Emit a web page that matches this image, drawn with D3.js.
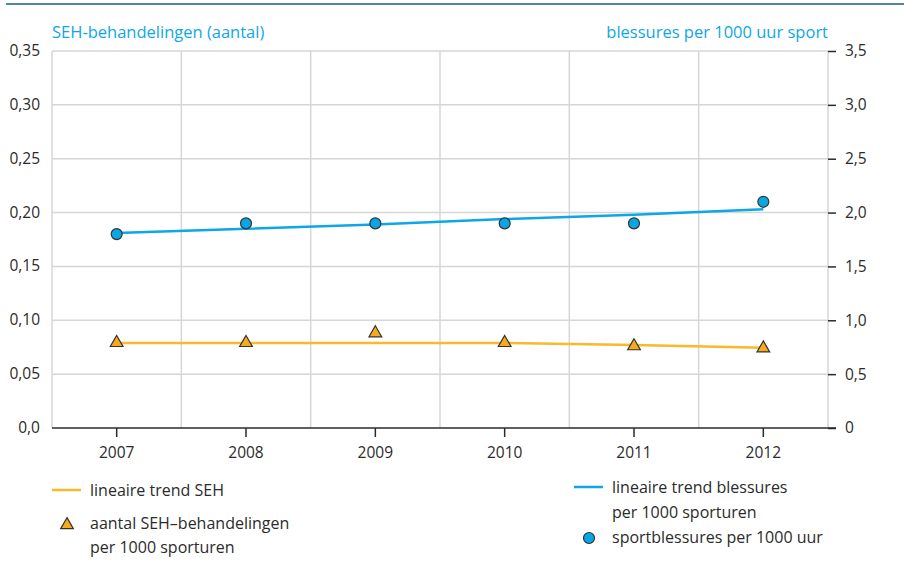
<!DOCTYPE html>
<html>
<head>
<meta charset="utf-8">
<script src="https://cdn.jsdelivr.net/npm/d3@7"></script>
<style>
  body { margin: 0; background: #fff; }
  svg { font-family: 'Open Sans', 'Noto Sans', sans-serif; }
</style>
</head>
<body>
<div id="chart"></div>
<script>
const years = ['2007', '2008', '2009', '2010', '2011', '2012']
const sehValues = [0.080, 0.080, 0.089, 0.080, 0.077, 0.075]
const sehTrend = [0.079, 0.079, 0.079, 0.079, 0.077, 0.0745]
const blessValues = [1.80, 1.90, 1.90, 1.90, 1.90, 2.10]
const blessTrend = [1.81, 1.85, 1.89, 1.94, 1.98, 2.03]
const leftTicks = [0, 0.05, 0.10, 0.15, 0.20, 0.25, 0.30, 0.35]
const rightTicks = [0, 0.5, 1.0, 1.5, 2.0, 2.5, 3.0, 3.5]

const width = 904
const height = 574
const margin = { top: 51, right: 76, bottom: 146, left: 52 }

const orange = '#fbb829'
const blue = '#0ea7e6'
const textCol = '#2b2b2b'
const gridCol = '#d6d6d6'
const fontFam = "'Open Sans', 'Noto Sans', sans-serif"

const svg = d3.select('#chart').append('svg')
  .attr('width', width)
  .attr('height', height)

// top rule
svg.append('line')
  .attr('x1', 6).attr('x2', width)
  .attr('y1', 4).attr('y2', 4)
  .attr('stroke', '#4d86a8').attr('stroke-width', 2)

const x = d3.scaleBand()
  .domain(years)
  .range([margin.left, width - margin.right])

const yLeft = d3.scaleLinear()
  .domain([0, 0.35])
  .range([height - margin.bottom, margin.top])

const yRight = d3.scaleLinear()
  .domain([0, 3.5])
  .range([height - margin.bottom, margin.top])

const fmtLeft = (d) => d === 0 ? '0,0' : d3.format('.2f')(d).replace('.', ',')
const fmtRight = (d) => d === 0 ? '0' : d3.format('.1f')(d).replace('.', ',')

// horizontal grid
svg.append('g')
  .selectAll('line')
  .data(leftTicks.filter(d => d > 0))
  .join('line')
  .attr('x1', margin.left).attr('x2', width - margin.right)
  .attr('y1', d => yLeft(d)).attr('y2', d => yLeft(d))
  .attr('stroke', gridCol).attr('stroke-width', 1.5)

// vertical grid at band edges
const edges = years.map(d => x(d)).concat([x(years[years.length - 1]) + x.bandwidth()])
svg.append('g')
  .selectAll('line')
  .data(edges)
  .join('line')
  .attr('x1', d => d).attr('x2', d => d)
  .attr('y1', margin.top).attr('y2', height - margin.bottom)
  .attr('stroke', gridCol).attr('stroke-width', 1.5)

// left axis labels
svg.append('g')
  .selectAll('text')
  .data(leftTicks)
  .join('text')
  .attr('x', 40)
  .attr('y', d => yLeft(d) + 5)
  .attr('text-anchor', 'end')
  .attr('font-size', 15.5)
  .attr('fill', textCol)
  .text(fmtLeft)

// right axis
const rightAxis = svg.append('g')
  .attr('transform', `translate(${width - margin.right},0)`)
  .call(d3.axisRight(yRight).tickValues(rightTicks).tickFormat(fmtRight).tickSize(8).tickPadding(9))
rightAxis.select('.domain').remove()
rightAxis.selectAll('line').attr('stroke', textCol).attr('stroke-width', 1.5)
rightAxis.selectAll('text')
  .attr('font-size', 15.5)
  .attr('fill', textCol)
  .attr('font-family', fontFam)

// bottom axis
const bottom = svg.append('g')
  .attr('transform', `translate(0,${height - margin.bottom})`)
  .call(d3.axisBottom(x).tickSize(9).tickPadding(10))
bottom.select('.domain').remove()
bottom.append('line')
  .attr('x1', margin.left).attr('x2', width - margin.right + 8)
  .attr('stroke', textCol).attr('stroke-width', 1.5)
bottom.selectAll('.tick line').attr('stroke', textCol).attr('stroke-width', 1.5)
bottom.selectAll('text')
  .attr('font-size', 15.5)
  .attr('fill', textCol)
  .attr('font-family', fontFam)

// axis titles
svg.append('text')
  .attr('x', margin.left).attr('y', 38)
  .attr('font-size', 16.5).attr('fill', blue)
  .text('SEH-behandelingen (aantal)')
svg.append('text')
  .attr('x', width - margin.right).attr('y', 38)
  .attr('text-anchor', 'end')
  .attr('font-size', 16.5).attr('fill', blue)
  .text('blessures per 1000 uur sport')

const cx = (d, i) => x(years[i]) + x.bandwidth() / 2

// trend lines
const lineLeft = d3.line().x(cx).y(d => yLeft(d))
const lineRight = d3.line().x(cx).y(d => yRight(d))

svg.append('path')
  .attr('d', lineLeft(sehTrend))
  .attr('fill', 'none').attr('stroke', orange).attr('stroke-width', 2.5)

svg.append('path')
  .attr('d', lineRight(blessTrend))
  .attr('fill', 'none').attr('stroke', blue).attr('stroke-width', 2.5)

// markers
const tri = d3.symbol().type(d3.symbolTriangle).size(70)
svg.append('g')
  .selectAll('path')
  .data(sehValues)
  .join('path')
  .attr('d', tri)
  .attr('transform', (d, i) => `translate(${cx(d, i)},${yLeft(d) + 1})`)
  .attr('fill', '#f6ab1e').attr('stroke', '#333').attr('stroke-width', 1.2)

svg.append('g')
  .selectAll('circle')
  .data(blessValues)
  .join('circle')
  .attr('cx', cx)
  .attr('cy', d => yRight(d))
  .attr('r', 5.5)
  .attr('fill', '#0aa5e5').attr('stroke', '#333').attr('stroke-width', 1.2)

// legend
const leg = svg.append('g').attr('font-size', 16).attr('fill', textCol)

leg.append('line')
  .attr('x1', 52).attr('x2', 81).attr('y1', 490).attr('y2', 490)
  .attr('stroke', orange).attr('stroke-width', 2.5)
leg.append('text').attr('x', 90).attr('y', 496).text('lineaire trend SEH')

leg.append('path')
  .attr('d', tri)
  .attr('transform', 'translate(67,525)')
  .attr('fill', '#f6ab1e').attr('stroke', '#333').attr('stroke-width', 1.2)
leg.append('text').attr('x', 90).attr('y', 529).text('aantal SEH–behandelingen')
leg.append('text').attr('x', 90).attr('y', 553).text('per 1000 sporturen')

leg.append('line')
  .attr('x1', 574).attr('x2', 603).attr('y1', 487).attr('y2', 487)
  .attr('stroke', blue).attr('stroke-width', 2.5)
leg.append('text').attr('x', 612).attr('y', 493).text('lineaire trend blessures')
leg.append('text').attr('x', 612).attr('y', 518).text('per 1000 sporturen')

leg.append('circle')
  .attr('cx', 589).attr('cy', 538).attr('r', 5.5)
  .attr('fill', '#0aa5e5').attr('stroke', '#333').attr('stroke-width', 1.2)
leg.append('text').attr('x', 612).attr('y', 543).text('sportblessures per 1000 uur')
</script>
</body>
</html>
